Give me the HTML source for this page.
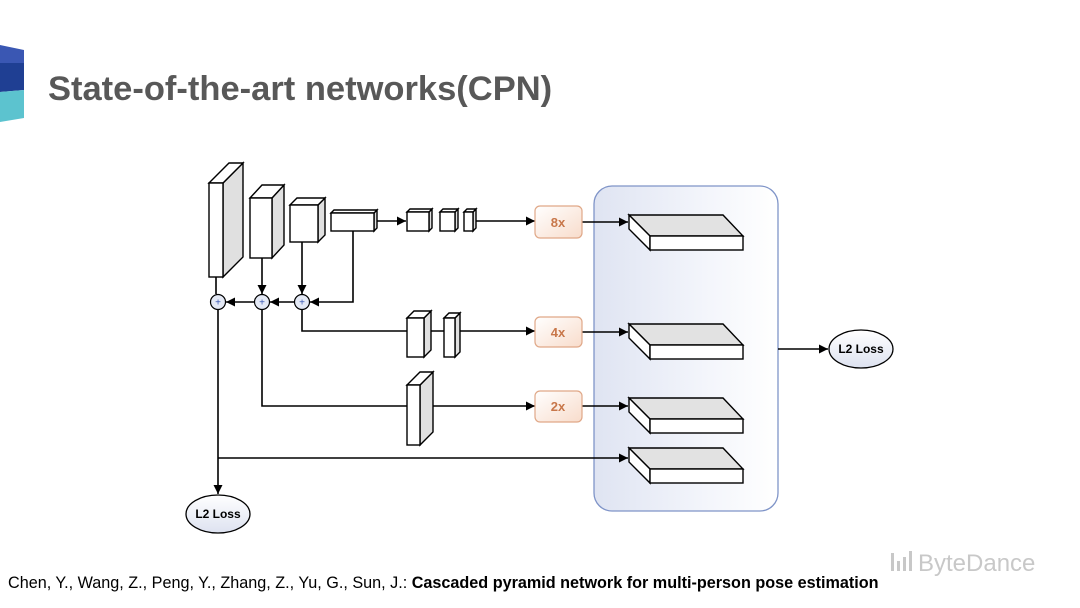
<!DOCTYPE html>
<html><head><meta charset="utf-8"><style>
html,body{margin:0;padding:0;background:#fff;}
body{width:1080px;height:608px;overflow:hidden;position:relative;font-family:"Liberation Sans",sans-serif;}
</style></head><body>
<svg width="1080" height="608" viewBox="0 0 1080 608" xmlns="http://www.w3.org/2000/svg" style="position:absolute;left:0;top:0">
<defs>
<marker id="a" viewBox="0 0 10 10" refX="10" refY="5" markerWidth="9" markerHeight="9" orient="auto" markerUnits="userSpaceOnUse"><path d="M0,0L10,5L0,10z" fill="#000"/></marker>
<linearGradient id="pg" x1="0" y1="0" x2="1" y2="0"><stop offset="0" stop-color="#dfe4f2"/><stop offset="0.6" stop-color="#f3f5fb"/><stop offset="1" stop-color="#fff"/></linearGradient>
<linearGradient id="og" x1="0" y1="0" x2="1" y2="1"><stop offset="0" stop-color="#fff"/><stop offset="1" stop-color="#f8dccb"/></linearGradient>
<linearGradient id="eg" x1="0" y1="0" x2="0" y2="1"><stop offset="0" stop-color="#fff"/><stop offset="1" stop-color="#dde2f0"/></linearGradient>
</defs>
<polygon points="0,45 24,50 24,63 0,63" fill="#3a57b3"/>
<polygon points="0,63 24,63 24,90 0,92" fill="#1f3f93"/>
<polygon points="0,92 24,90 24,118 0,122" fill="#5cc3cf"/>
<text x="48" y="100" font-size="34.5" font-weight="bold" fill="#585858" font-family="Liberation Sans, sans-serif">State-of-the-art networks(CPN)</text>

<rect x="594" y="186" width="184" height="325" rx="18" fill="url(#pg)" stroke="#7f94c8" stroke-width="1.3"/>

<g stroke="#000" stroke-width="1.4" fill="#fff">
<polygon points="223,183 243,163 243,257 223,277" fill="#e0e0e0"/>
<polygon points="209,183 229,163 243,163 223,183"/>
<rect x="209" y="183" width="14" height="94"/>
<polygon points="272,198 284,185 284,245 272,258" fill="#e0e0e0"/>
<polygon points="250,198 262,185 284,185 272,198"/>
<rect x="250" y="198" width="22" height="60"/>
<polygon points="318,205 325,198 325,235 318,242" fill="#e0e0e0"/>
<polygon points="290,205 297,198 325,198 318,205"/>
<rect x="290" y="205" width="28" height="37"/>
<polygon points="374,213 377,210 377,228 374,231" fill="#e0e0e0"/>
<polygon points="331,213 334,210 377,210 374,213"/>
<rect x="331" y="213" width="43" height="18"/>
<polygon points="429,212 432,209 432,228 429,231" fill="#e0e0e0"/>
<polygon points="407,212 410,209 432,209 429,212"/>
<rect x="407" y="212" width="22" height="19"/>
<polygon points="455,212 458,209 458,228 455,231" fill="#e0e0e0"/>
<polygon points="440,212 443,209 458,209 455,212"/>
<rect x="440" y="212" width="15" height="19"/>
<polygon points="473,212 476,209 476,228 473,231" fill="#e0e0e0"/>
<polygon points="464,212 467,209 476,209 473,212"/>
<rect x="464" y="212" width="9" height="19"/>
</g>

<g stroke="#000" stroke-width="1.6" fill="none">
<line x1="377" y1="221" x2="406" y2="221" marker-end="url(#a)"/>
<line x1="476" y1="221" x2="535" y2="221" marker-end="url(#a)"/>
<polyline points="353,231 353,302 310,302" marker-end="url(#a)"/>
<line x1="302" y1="242" x2="302" y2="294" marker-end="url(#a)"/>
<line x1="262" y1="258" x2="262" y2="294" marker-end="url(#a)"/>
<line x1="216" y1="277" x2="216" y2="294"/>
<line x1="295" y1="302" x2="270" y2="302" marker-end="url(#a)"/>
<line x1="255" y1="302" x2="226" y2="302" marker-end="url(#a)"/>
<polyline points="302,309 302,331 535,331" marker-end="url(#a)"/>
<polyline points="262,309 262,406 535,406" marker-end="url(#a)"/>
<line x1="218" y1="309" x2="218" y2="494" marker-end="url(#a)"/>
<line x1="218" y1="458" x2="628" y2="458" marker-end="url(#a)"/>
<line x1="582" y1="222" x2="628" y2="222" marker-end="url(#a)"/>
<line x1="582" y1="332" x2="628" y2="332" marker-end="url(#a)"/>
<line x1="582" y1="406" x2="628" y2="406" marker-end="url(#a)"/>
<line x1="778" y1="349" x2="828" y2="349" marker-end="url(#a)"/>
</g>

<g stroke="#000" stroke-width="1.4" fill="#fff">
<polygon points="424,318 431,311 431,350 424,357" fill="#e0e0e0"/>
<polygon points="407,318 414,311 431,311 424,318"/>
<rect x="407" y="318" width="17" height="39"/>
<polygon points="455,318 460,313 460,352 455,357" fill="#e0e0e0"/>
<polygon points="444,318 449,313 460,313 455,318"/>
<rect x="444" y="318" width="11" height="39"/>
<polygon points="420,385 433,372 433,432 420,445" fill="#e0e0e0"/>
<polygon points="407,385 420,372 433,372 420,385"/>
<rect x="407" y="385" width="13" height="60"/>
</g>

<g stroke="#000" stroke-width="1.2" fill="#e4e9f5">
<circle cx="218" cy="302" r="7.5"/><circle cx="262" cy="302" r="7.5"/><circle cx="302" cy="302" r="7.5"/>
</g>
<g font-size="10" fill="#3a57b3" text-anchor="middle"><text x="218" y="305.5">+</text><text x="262" y="305.5">+</text><text x="302" y="305.5">+</text></g>

<g stroke="#e0a888" stroke-width="1.2" fill="url(#og)">
<rect x="535" y="206" width="47" height="32" rx="5"/>
<rect x="535" y="317" width="47" height="30" rx="5"/>
<rect x="535" y="391" width="47" height="31" rx="5"/>
</g>
<g font-size="13" font-weight="bold" fill="#c8774a" text-anchor="middle">
<text x="558" y="227">8x</text><text x="558" y="337">4x</text><text x="558" y="411">2x</text>
</g>

<g stroke="#000" stroke-width="1.4">
<g><polygon points="629,215 723,215 743,236 650,236" fill="#e2e2e2"/><polygon points="629,215 650,236 650,250 629,229" fill="#fff"/><rect x="650" y="236" width="93" height="14" fill="#fff"/></g>
<g transform="translate(0,109)"><polygon points="629,215 723,215 743,236 650,236" fill="#e2e2e2"/><polygon points="629,215 650,236 650,250 629,229" fill="#fff"/><rect x="650" y="236" width="93" height="14" fill="#fff"/></g>
<g transform="translate(0,183)"><polygon points="629,215 723,215 743,236 650,236" fill="#e2e2e2"/><polygon points="629,215 650,236 650,250 629,229" fill="#fff"/><rect x="650" y="236" width="93" height="14" fill="#fff"/></g>
<g transform="translate(0,233)"><polygon points="629,215 723,215 743,236 650,236" fill="#e2e2e2"/><polygon points="629,215 650,236 650,250 629,229" fill="#fff"/><rect x="650" y="236" width="93" height="14" fill="#fff"/></g>
</g>

<g stroke="#000" stroke-width="1.3" fill="url(#eg)">
<ellipse cx="861" cy="349" rx="32" ry="19"/>
<ellipse cx="218" cy="514" rx="32" ry="19"/>
</g>
<g font-size="12" font-weight="bold" fill="#000" text-anchor="middle">
<text x="861" y="353">L2 Loss</text><text x="218" y="518">L2 Loss</text>
</g>

<g fill="#c8c8c8">
<rect x="891" y="553" width="3" height="18"/><rect x="897" y="561" width="3" height="10"/><rect x="903" y="557" width="3" height="14"/><rect x="909" y="551" width="3" height="20"/>
</g>
<text x="918" y="571" font-size="24" fill="#c8c8c8">ByteDance</text>

<text x="8" y="588" font-size="16.2" fill="#000">Chen, Y., Wang, Z., Peng, Y., Zhang, Z., Yu, G., Sun, J.: <tspan font-weight="bold">Cascaded pyramid network for multi-person pose estimation</tspan></text>
</svg>
</body></html>
